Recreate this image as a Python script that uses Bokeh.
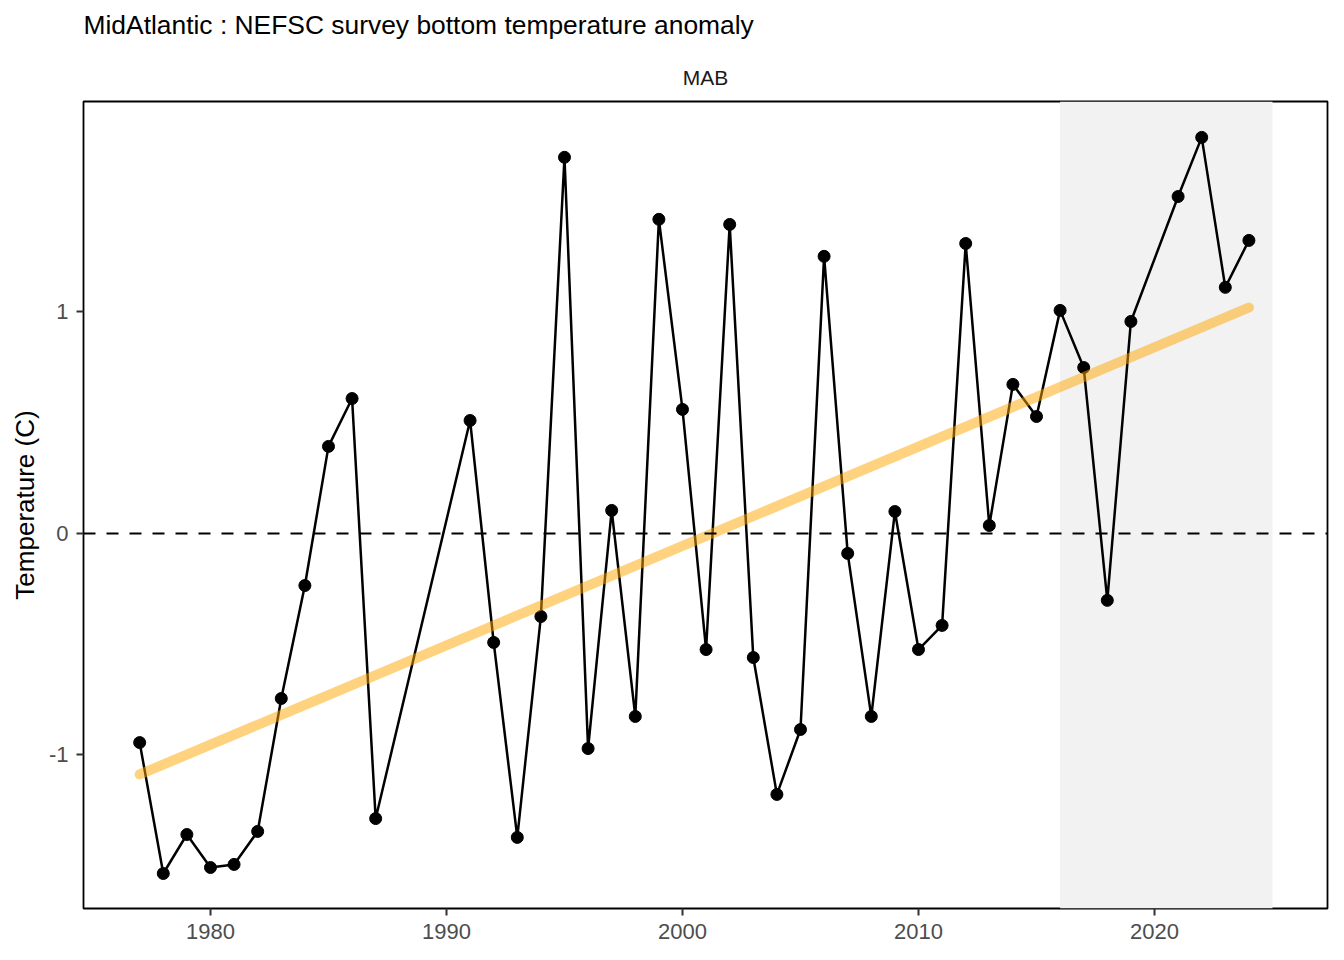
from bokeh.plotting import figure
from bokeh.models import Range1d, FixedTicker, Span, BoxAnnotation, Title, ColumnDataSource
from bokeh.embed import file_html
from bokeh.resources import INLINE

# ---- data ----
years = [1977, 1978, 1979, 1980, 1981, 1982, 1983, 1984, 1985, 1986, 1987,
         1991, 1992, 1993, 1994, 1995, 1996, 1997, 1998, 1999, 2000,
         2001, 2002, 2003, 2004, 2005, 2006, 2007, 2008, 2009, 2010,
         2011, 2012, 2013, 2014, 2015, 2016, 2017, 2018, 2019,
         2021, 2022, 2023, 2024]
anomaly = [-0.944, -1.535, -1.359, -1.508, -1.494, -1.345, -0.745, -0.235, 0.393, 0.609, -1.287,
           0.510, -0.492, -1.372, -0.375, 1.698, -0.971, 0.104, -0.826, 1.418, 0.560,
           -0.524, 1.395, -0.560, -1.178, -0.885, 1.251, -0.090, -0.826, 0.099, -0.524,
           -0.415, 1.309, 0.036, 0.673, 0.528, 1.007, 0.749, -0.302, 0.957,
           1.521, 1.788, 1.111, 1.323]
trend_years = [1977, 2024]
trend_values = [-1.088, 1.020]
highlight_start = 2016
highlight_end = 2025
x_ticks = [1980, 1990, 2000, 2010, 2020]
y_ticks = [-1, 0, 1]
y_tick_labels = {-1: "-1", 0: "0", 1: "1"}

FONT = "Liberation Sans"

src = ColumnDataSource(data=dict(year=years, value=anomaly))

p = figure(width=1336, height=952, output_backend="svg", toolbar_location=None,
           x_range=Range1d(1974.62, 2027.33), y_range=Range1d(-1.693, 1.950),
           min_border_left=83, min_border_right=9, min_border_top=101, min_border_bottom=44,
           title=None)

p.add_layout(BoxAnnotation(left=highlight_start, right=highlight_end,
                           fill_color="#F2F2F2", fill_alpha=1.0, line_color=None,
                           level="underlay"))
p.add_layout(Span(location=0, dimension="width", line_color="black",
                  line_width=2, line_dash="12 11"))

p.line("year", "value", source=src, line_color="black", line_width=2.5)
p.scatter("year", "value", source=src, size=12, fill_color="black", line_color="black")
p.line(trend_years, trend_values, line_color="#FFA500", line_alpha=0.5,
       line_width=10, line_cap="round")

p.xgrid.visible = False
p.ygrid.visible = False
p.outline_line_color = "black"
p.outline_line_width = 1.8
p.outline_line_alpha = 1.0
p.background_fill_color = "white"
p.border_fill_color = "white"

for ax in (p.xaxis[0], p.yaxis[0]):
    ax.axis_line_color = None
    ax.major_tick_line_color = "#333333"
    ax.major_tick_line_width = 2
    ax.major_tick_in = 0
    ax.major_tick_out = 7
    ax.minor_tick_line_color = None
    ax.major_label_text_font = FONT
    ax.major_label_text_font_size = "22px"
    ax.major_label_text_color = "#4D4D4D"

p.xaxis[0].ticker = FixedTicker(ticks=x_ticks)
p.yaxis[0].ticker = FixedTicker(ticks=y_ticks)
p.yaxis[0].major_label_overrides = y_tick_labels
p.xaxis[0].major_label_standoff = 8
p.yaxis[0].major_label_standoff = 8
p.yaxis[0].axis_label = "Temperature (C)"
p.yaxis[0].axis_label_text_font = FONT
p.yaxis[0].axis_label_text_font_size = "26px"
p.yaxis[0].axis_label_text_font_style = "normal"
p.yaxis[0].axis_label_text_color = "black"
p.yaxis[0].axis_label_standoff = 6

p.add_layout(Title(text="MAB", align="center", text_font=FONT, text_font_size="21px",
                   text_font_style="normal", text_color="#1A1A1A", standoff=25), "above")
p.add_layout(Title(text="MidAtlantic : NEFSC survey bottom temperature anomaly",
                   align="left", vertical_align="top", text_font=FONT,
                   text_font_size="26.4px", text_font_style="normal",
                   text_color="black", standoff=19), "above")

open("out.html", "w").write(file_html(p, INLINE))
